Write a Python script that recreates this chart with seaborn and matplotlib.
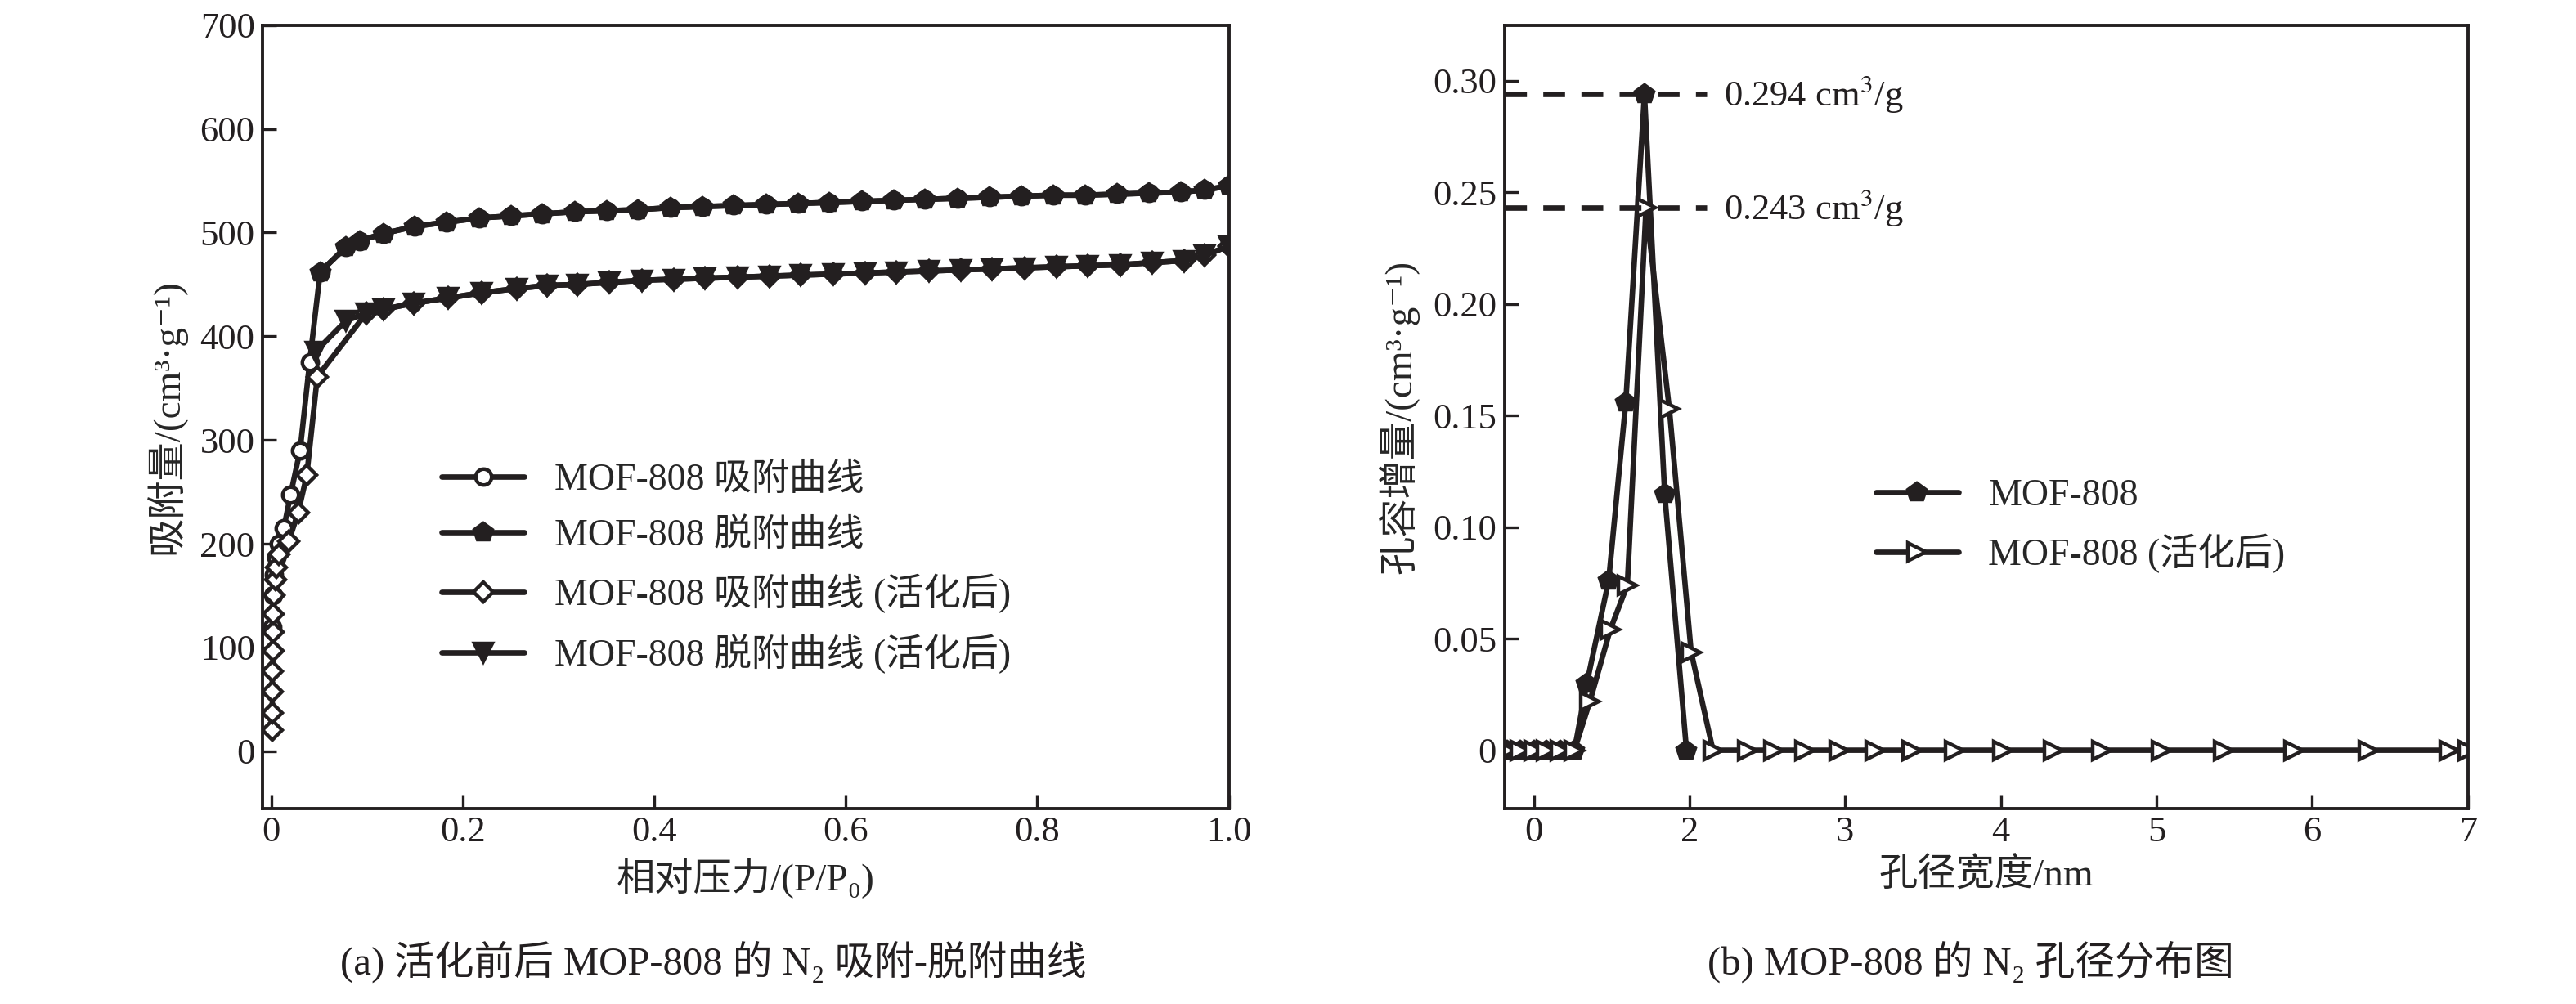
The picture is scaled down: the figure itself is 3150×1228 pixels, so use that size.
import numpy as np
import pandas as pd
import matplotlib
matplotlib.use("Agg")
import matplotlib.pyplot as plt
import seaborn as sns

sns.set_theme(style="white")
FAM = ['Liberation Serif', 'Noto Sans CJK SC', 'DejaVu Sans']
plt.rcParams['font.family'] = FAM
plt.rcParams['mathtext.fontset'] = 'stix'
C = '#231f20'

# ---- panel (a) data ----
up_x = [0.051,0.078,0.092,0.117,0.15,0.183,0.217,0.25,0.283,0.317,0.35,0.383,0.417,0.45,0.483,0.517,0.55,0.583,0.617,0.65,0.683,0.717,0.75,0.783,0.817,0.85,0.883,0.917,0.95,0.975,1.0]
up_y = [462,486,492,499,506,510,514,516,518,520,521,522,524,525,526,527,528,529,530,531,532,533,534,535,536,536,537,538,539,541,545]
ads_low_x = [0.001,0.002,0.003,0.005,0.008,0.013,0.02,0.03,0.04]
ads_low_y = [120,150,170,187,200,215,247,290,375]
act_low_x = [0.001,0.001,0.001,0.001,0.002,0.002,0.002,0.003,0.004,0.005,0.008,0.018,0.028,0.037,0.048]
act_low_y = [20,37,57,77,97,115,132,150,165,177,190,202,230,266,361]
lo_x = [0.099,0.117,0.149,0.185,0.22,0.256,0.288,0.32,0.353,0.387,0.42,0.453,0.487,0.52,0.553,0.587,0.62,0.653,0.687,0.72,0.753,0.787,0.82,0.853,0.887,0.92,0.953,0.975,1.0]
lo_y = [422,426,432,437,442,446,449,450,452,454,455,456,457,458,459,460,461,462,463,464,465,466,467,468,469,471,473,478,487]
des_act_start_x = [0.046,0.078]
des_act_start_y = [385,415]

# ---- panel (b) data ----
pre_x = [-0.17,-0.09,0.0,0.08,0.17,0.26]
mof_x = [0.34,0.48,0.59,0.71,0.84,0.98]
mof_y = [0.030,0.076,0.156,0.294,0.115,0.0]
act_x = [0.36,0.49,0.60,0.72,0.87,1.01,1.15,1.37,1.54,1.74,1.96,2.19,2.43,2.70,3.01,3.34,3.65,4.03,4.43,4.88,5.36,5.88,6.0]
act_y = [0.022,0.054,0.074,0.243,0.153,0.044,0.0,0.0,0.0,0.0,0.0,0.0,0.0,0.0,0.0,0.0,0.0,0.0,0.0,0.0,0.0,0.0,0.0]
b_tick_pos = [0,1,2,3,4,5,6]
b_tick_lab = ['0','2','3','4','5','6','7']
peaks = [0.294, 0.243]

fig = plt.figure(figsize=(15.75, 6.14), dpi=200)
ax1 = fig.add_axes([0.102, 0.195, 0.375, 0.78])
ax2 = fig.add_axes([0.584, 0.195, 0.374, 0.78])

def line(ax, x, y, marker, fill, label, ms=7, lw=2.4):
    df = pd.DataFrame({'x': x, 'y': y})
    sns.lineplot(data=df, x='x', y='y', ax=ax, sort=False, estimator=None, color=C,
                 marker=marker, markersize=ms, markerfacecolor=(C if fill else 'white'),
                 markeredgecolor=C, markeredgewidth=1.6, linewidth=lw, label=label)

line(ax1, ads_low_x + up_x, ads_low_y + up_y, 'o', False, 'MOF-808 吸附曲线')
line(ax1, up_x[::-1], up_y[::-1], 'p', True, 'MOF-808 脱附曲线', ms=8)
line(ax1, act_low_x + lo_x, act_low_y + lo_y, 'D', False, 'MOF-808 吸附曲线 (活化后)', ms=6)
line(ax1, (des_act_start_x + lo_x)[::-1], (des_act_start_y + lo_y)[::-1], 'v', True, 'MOF-808 脱附曲线 (活化后)', ms=8)

ax1.set_xlim(-0.009, 1.0)
ax1.set_ylim(-55, 700)
ax1.set_xticks([0, 0.2, 0.4, 0.6, 0.8, 1.0])
ax1.set_xticklabels(['0', '0.2', '0.4', '0.6', '0.8', '1.0'])
ax1.set_yticks(range(0, 701, 100))
ax1.set_xlabel('相对压力/(P/P₀)', fontsize=17, labelpad=4)
ax1.set_ylabel('吸附量/(cm³·g⁻¹)', fontsize=17, labelpad=6)
ax1.legend(loc='upper left', bbox_to_anchor=(0.17, 0.46), frameon=False, fontsize=16.5,
           handlelength=2.2, labelspacing=0.55, borderaxespad=0)

line(ax2, pre_x + mof_x, [0.0]*6 + mof_y, 'p', True, 'MOF-808', ms=8)
line(ax2, pre_x + act_x, [0.0]*6 + act_y, '>', False, 'MOF-808 (活化后)', ms=8)
for p in peaks:
    ax2.plot([-0.19, 1.11], [p, p], color=C, linestyle=(0, (4, 3)), linewidth=2.4)
    ax2.text(1.22, p, f'{p:.3f} cm$^3$/g', fontsize=16, va='center', ha='left', color=C)
ax2.set_xlim(-0.19, 6.0)
ax2.set_ylim(-0.026, 0.325)
ax2.set_xticks(b_tick_pos)
ax2.set_xticklabels(b_tick_lab)
ax2.set_yticks([0, 0.05, 0.10, 0.15, 0.20, 0.25, 0.30])
ax2.set_yticklabels(['0', '0.05', '0.10', '0.15', '0.20', '0.25', '0.30'])
ax2.set_xlabel('孔径宽度/nm', fontsize=17, labelpad=4)
ax2.set_ylabel('孔容增量/(cm³·g⁻¹)', fontsize=17, labelpad=6)
ax2.legend(loc='upper left', bbox_to_anchor=(0.37, 0.44), frameon=False, fontsize=16.5,
           handlelength=2.2, labelspacing=0.55, borderaxespad=0)

for ax in (ax1, ax2):
    for s in ax.spines.values():
        s.set_color(C); s.set_linewidth(1.4)
    ax.tick_params(direction='in', length=6, width=1.2, labelsize=16, colors=C,
                   bottom=True, left=True, top=False, right=False)

fig.text(0.277, 0.03, '(a) 活化前后 MOP-808 的 N₂ 吸附-脱附曲线', ha='center', fontsize=17.5, color=C)
fig.text(0.765, 0.03, '(b) MOP-808 的 N₂ 孔径分布图', ha='center', fontsize=17.5, color=C)

fig.savefig('out.png', dpi=200)
